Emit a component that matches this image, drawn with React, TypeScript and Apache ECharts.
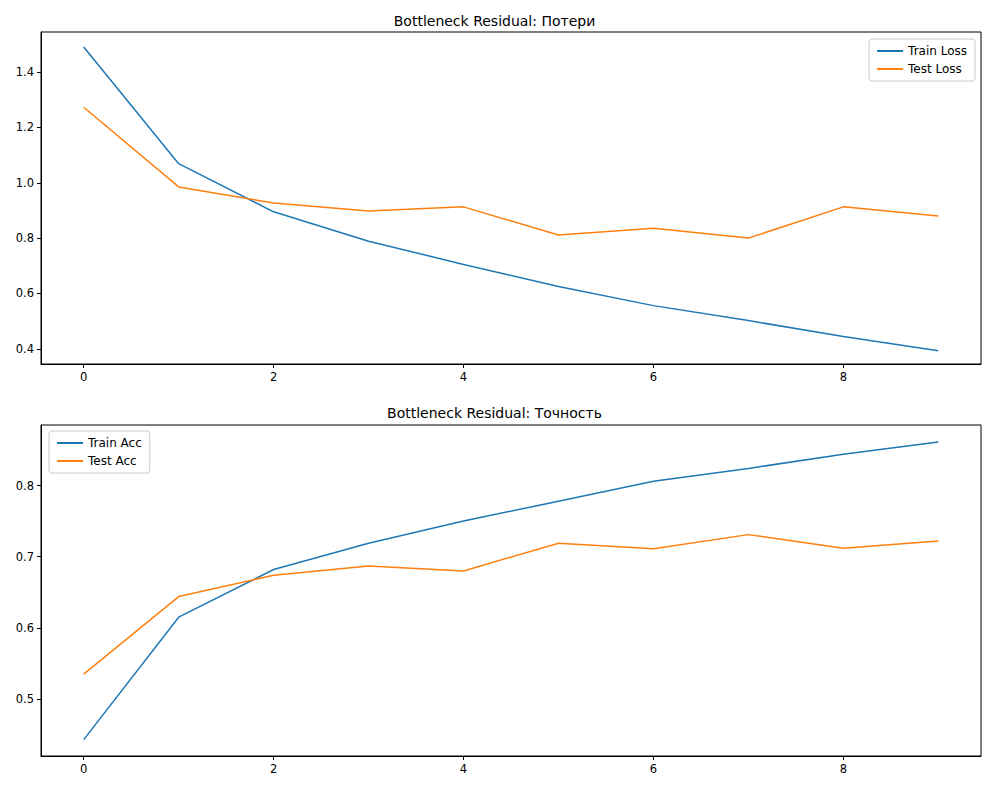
import React, { useEffect, useRef } from 'react';
import * as echarts from 'echarts';

const epochs = [0, 1, 2, 3, 4, 5, 6, 7, 8, 9];
const trainLoss = [1.491, 1.069, 0.895, 0.789, 0.705, 0.625, 0.556, 0.502, 0.444, 0.393];
const testLoss = [1.273, 0.985, 0.927, 0.898, 0.913, 0.811, 0.836, 0.8, 0.913, 0.88];
const trainAcc = [0.443, 0.615, 0.682, 0.719, 0.75, 0.778, 0.806, 0.824, 0.844, 0.861];
const testAcc = [0.535, 0.644, 0.674, 0.687, 0.68, 0.719, 0.711, 0.731, 0.712, 0.722];
const xTicks = [0, 2, 4, 6, 8];
const lossTicks = [0.4, 0.6, 0.8, 1.0, 1.2, 1.4];
const accTicks = [0.5, 0.6, 0.7, 0.8];

const BLUE = '#1f77b4';
const ORANGE = '#ff7f0e';
const FONT = 'DejaVu Sans';

const App: React.FC = () => {
  const chartRef = useRef<HTMLDivElement>(null);

  useEffect(() => {
    document.body.style.margin = '0';
    if (!chartRef.current) return;
    const chart = echarts.init(chartRef.current, null, { renderer: 'svg' });

    const grids = [
      { left: 41, top: 32, width: 940, height: 332 },
      { left: 41, top: 425, width: 940, height: 331 },
    ];

    const xAxis = (gridIndex: number) => ({
      type: 'value',
      gridIndex,
      min: -0.45,
      max: 9.45,
      axisLine: { show: true, onZero: false, lineStyle: { color: '#000' } },
      axisTick: { show: true, customValues: xTicks, length: 4, lineStyle: { color: '#000' } },
      axisLabel: { customValues: xTicks, color: '#000', fontFamily: FONT, fontSize: 11.5, margin: 7 },
      splitLine: { show: false },
    });

    const yAxis = (gridIndex: number, min: number, max: number, ticks: number[]) => ({
      type: 'value',
      gridIndex,
      min,
      max,
      axisLine: { show: true, onZero: false, lineStyle: { color: '#000' } },
      axisTick: { show: true, customValues: ticks, length: 4, lineStyle: { color: '#000' } },
      axisLabel: {
        customValues: ticks,
        color: '#000',
        fontFamily: FONT,
        fontSize: 11.5,
        margin: 7,
        formatter: (v: number) => v.toFixed(1),
      },
      splitLine: { show: false },
    });

    const line = (name: string, data: number[], color: string, idx: number) => ({
      name,
      type: 'line',
      xAxisIndex: idx,
      yAxisIndex: idx,
      data: epochs.map((e, i) => [e, data[i]]),
      showSymbol: false,
      lineStyle: { color, width: 1.5 },
      itemStyle: { color },
    });

    const legendBase = {
      orient: 'vertical',
      backgroundColor: '#fff',
      borderColor: '#ccc',
      borderWidth: 1,
      borderRadius: 3,
      padding: [6, 8],
      itemGap: 6,
      itemWidth: 26,
      itemHeight: 2,
      icon: 'rect',
      textStyle: { fontFamily: FONT, fontSize: 12, color: '#000' },
    };

    chart.setOption({
      animation: false,
      title: [
        { text: 'Bottleneck Residual: Потери', left: 'center', top: 9, textStyle: { fontFamily: FONT, fontSize: 14, fontWeight: 'normal', color: '#000' } },
        { text: 'Bottleneck Residual: Точность', left: 'center', top: 401, textStyle: { fontFamily: FONT, fontSize: 14, fontWeight: 'normal', color: '#000' } },
      ],
      grid: grids,
      xAxis: [xAxis(0), xAxis(1)],
      yAxis: [yAxis(0, 0.345, 1.545, lossTicks), yAxis(1, 0.42, 0.885, accTicks)],
      legend: [
        { ...legendBase, data: ['Train Loss', 'Test Loss'], right: 14, top: 39 },
        { ...legendBase, data: ['Train Acc', 'Test Acc'], left: 49, top: 431 },
      ],
      graphic: grids.map((g) => ({
        type: 'rect',
        shape: { x: g.left, y: g.top, width: g.width, height: g.height },
        style: { fill: 'none', stroke: '#000', lineWidth: 1 },
        silent: true,
        z: 10,
      })),
      series: [
        line('Train Loss', trainLoss, BLUE, 0),
        line('Test Loss', testLoss, ORANGE, 0),
        line('Train Acc', trainAcc, BLUE, 1),
        line('Test Acc', testAcc, ORANGE, 1),
      ],
    });

    return () => chart.dispose();
  }, []);

  return <div ref={chartRef} style={{ width: 989, height: 790 }} />;
};

export default App;
